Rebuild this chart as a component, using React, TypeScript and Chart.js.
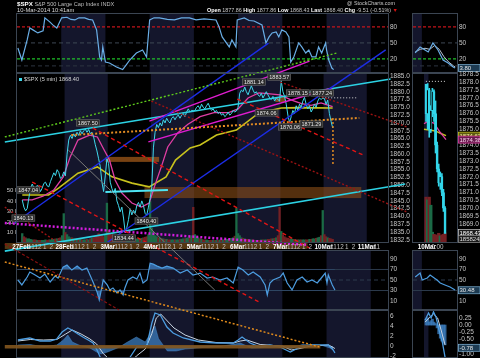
import React, { useEffect, useRef } from "react";
import { Chart, registerables } from "chart.js";

Chart.register(...registerables);

/* ======================= DATA ======================= */

// left panels: time measured in sessions (0 = 27 Feb open)
const SESSION_LABELS = ["27Feb", "28Feb", "3Mar", "4Mar", "5Mar", "6Mar", "7Mar", "10Mar", "11Mar"];
const HOUR_LABELS = ["11", "12", "1", "2"];
const HOUR_MARKS = [1.5, 2.5, 3.5, 4.5];
const SESSION_HOURS = 6.5;
const SHADED_SESSIONS = [1, 3, 5, 7];
const SAMPLES_PER_SESSION = 26;

const PRICE_TICKS = [1832.5, 1835, 1837.5, 1840, 1842.5, 1845, 1847.5, 1850, 1852.5, 1855, 1857.5, 1860, 1862.5, 1865, 1867.5, 1870, 1872.5, 1875, 1877.5, 1880, 1882.5, 1885];
const VOLUME_TICKS = [10, 20, 30, 40, 50];
const TOP_TICKS = [80, 50, 20];
const RSI_TICKS = [90, 70, 50, 30, 10];
const MACD_TICKS = [6, 4, 2, 0, -2];
const TOP_LEVELS = [80, 50, 20, 7];
const RSI_LEVELS = [70, 50, 30];

// $SPX 15-minute samples per session
const spx27Feb = [1845.3, 1843.0, 1841.8, 1842.6, 1846.0, 1849.0, 1850.4, 1849.2, 1848.3, 1850.0, 1849.4, 1848.0, 1849.1, 1850.6, 1851.0, 1849.8, 1849.5, 1851.2, 1852.6, 1854.0, 1853.1, 1855.0, 1854.1, 1852.2, 1852.8, 1854.3];
const spx28Feb = [1853.0, 1860.0, 1864.5, 1866.0, 1865.0, 1866.5, 1865.5, 1867.0, 1866.0, 1867.5, 1866.5, 1867.5, 1868.0, 1867.0, 1867.9, 1866.5, 1867.0, 1865.5, 1863.0, 1861.0, 1858.5, 1856.0, 1851.0, 1848.0, 1853.0, 1858.5];
const spx3Mar = [1857.0, 1851.0, 1849.0, 1847.5, 1849.0, 1845.0, 1843.5, 1841.5, 1843.0, 1839.5, 1835.0, 1836.5, 1839.0, 1842.5, 1840.5, 1842.0, 1841.0, 1843.5, 1844.5, 1843.0, 1845.0, 1843.5, 1841.0, 1840.4, 1843.0, 1845.7];
const spx4Mar = [1849.2, 1862.0, 1867.0, 1869.5, 1868.5, 1870.0, 1869.0, 1871.0, 1870.0, 1871.5, 1870.5, 1870.0, 1871.5, 1872.0, 1871.0, 1872.0, 1872.5, 1871.5, 1872.5, 1873.0, 1872.0, 1873.5, 1874.5, 1873.5, 1874.0, 1873.9];
const spx5Mar = [1874.0, 1875.0, 1875.5, 1874.5, 1876.0, 1875.0, 1874.5, 1875.5, 1876.3, 1875.0, 1874.0, 1874.5, 1873.5, 1874.0, 1873.0, 1873.5, 1872.5, 1873.0, 1872.0, 1872.5, 1873.5, 1872.5, 1873.0, 1874.0, 1873.5, 1873.8];
const spx6Mar = [1875.0, 1879.5, 1880.5, 1880.0, 1881.5, 1880.0, 1879.0, 1880.5, 1881.9, 1880.5, 1879.5, 1880.0, 1879.0, 1878.5, 1879.5, 1878.0, 1879.0, 1880.0, 1879.0, 1878.0, 1877.5, 1878.5, 1877.0, 1878.0, 1877.5, 1877.0];
const spx7Mar = [1883.5, 1880.0, 1878.5, 1876.0, 1872.5, 1870.1, 1872.0, 1874.0, 1873.0, 1875.5, 1874.0, 1876.0, 1875.0, 1877.0, 1878.2, 1876.0, 1874.5, 1875.5, 1873.5, 1874.5, 1876.0, 1875.0, 1877.0, 1878.0, 1877.5, 1878.0];
const spx10Mar = [1877.8, 1876.0, 1877.3, 1873.0, 1870.5, 1868.4];
const SPX_SESSIONS = [spx27Feb, spx28Feb, spx3Mar, spx4Mar, spx5Mar, spx6Mar, spx7Mar, spx10Mar];

// volume (millions) per 15-minute sample
const vol27Feb = [9, 6, 5, 4, 4, 3.5, 3, 3, 3, 2.5, 2.5, 2.5, 2.5, 2.5, 3, 2.5, 3, 3, 3.5, 3.5, 4, 4, 4.5, 5, 7, 28];
const vol28Feb = [10, 8, 6, 5, 5, 4, 4, 4, 3.5, 3.5, 3, 3, 3, 3.5, 3, 4, 4.5, 5, 6, 7, 9, 8, 7, 6, 8, 38];
const vol3Mar = [12, 9, 8, 7, 6, 6, 5, 5, 4.5, 5, 6, 5, 4.5, 4, 4, 3.5, 3.5, 4, 4, 4, 4.5, 5, 5.5, 6, 8, 40];
const vol4Mar = [14, 10, 7, 6, 5, 4.5, 4, 4, 3.5, 3.5, 3, 3, 3, 3, 3, 3, 3, 3.5, 3.5, 4, 4, 4.5, 5, 5.5, 7, 34];
const vol5Mar = [8, 6, 5, 4, 3.5, 3, 3, 3, 2.5, 2.5, 2.5, 2.5, 2.5, 2.5, 2.5, 3, 3, 3, 3, 3.5, 3.5, 4, 4.5, 5, 6.5, 33];
const vol6Mar = [9, 7, 5, 4.5, 4, 3.5, 3.5, 3, 3, 3, 2.5, 2.5, 2.5, 2.5, 3, 3, 3, 3, 3.5, 3.5, 4, 4, 4.5, 5, 7, 34];
const vol7Mar = [11, 8, 6, 5, 4.5, 4, 4, 3.5, 3.5, 3, 3, 3, 3, 3, 3, 3, 3, 3.5, 3.5, 4, 4, 4.5, 5, 5.5, 7, 31];
const vol10Mar = [8, 6, 5, 4.5, 4, 3.5];
const VOL_SESSIONS = [vol27Feb, vol28Feb, vol3Mar, vol4Mar, vol5Mar, vol6Mar, vol7Mar, vol10Mar];

// moving averages [session, price]
const pinkMA = [[0.02, 1845.3], [0.25, 1845.3], [0.5, 1846.5], [0.75, 1848.5], [0.97, 1852.7], [1.13, 1859.1], [1.31, 1864.5], [1.58, 1866.1], [1.76, 1865.5], [1.88, 1862.3], [2.04, 1858.1], [2.17, 1851.7], [2.33, 1847.5], [2.56, 1844.3], [2.78, 1843.0], [2.96, 1844.3], [3.08, 1849.5], [3.24, 1855.9], [3.39, 1862.3], [3.62, 1866.8], [3.85, 1869.5], [4.14, 1872.0], [4.46, 1873.3], [4.8, 1873.3], [5.02, 1874.5], [5.25, 1878.0], [5.5, 1879.6], [5.7, 1879.4], [5.99, 1879.0], [6.26, 1877.3], [6.49, 1876.2], [6.71, 1875.6], [6.94, 1876.4], [7.21, 1875.2]];
const yellowMA = [[0.02, 1846.9], [0.63, 1846.9], [0.86, 1849.1], [1.31, 1853.9], [1.76, 1855.9], [2.1, 1852.7], [2.56, 1850.7], [2.96, 1849.5], [3.35, 1852.7], [3.57, 1858.1], [3.91, 1862.0], [4.14, 1862.9], [4.52, 1866.1], [4.98, 1867.7], [5.5, 1873.2], [6.02, 1874.8], [6.4, 1874.9], [7.21, 1874.8]];

// drawn trend lines: two [session, price] ends each
const tlCyanUpper = [[-0.385, 1863.9], [8.552, 1884.1]];
const tlCyanLower = [[-0.385, 1828.9], [8.891, 1850.4]];
const tlBlueA = [[-0.158, 1837.9], [5.724, 1895.6]];
const tlBlueB = [[1.968, 1831.5], [8.439, 1893.4]];
const tlGreenDotted = [[-0.385, 1865.5], [7.308, 1892.4]];
const tlMagentaUpper = [[2.964, 1870.6], [6.674, 1889.8]];
const tlMagentaLower = [[2.941, 1863.9], [7.195, 1881.2]];
const tlMagentaDotted = [[-0.385, 1837.9], [6.629, 1830.9]];
const tlRedA = [[1.652, 1868.4], [6.674, 1829.9]];
const tlRedB = [[0.249, 1851.05], [5.543, 1812.3]];
const tlRedC = [[5.0, 1877.66], [7.919, 1859.7]];
const tlDarkRedA = [[3.009, 1877.0], [8.937, 1841.4]];
const tlDarkRedB = [[5.995, 1883.1], [8.937, 1868.7]];
const tlDarkRedC = [[-0.385, 1843.0], [0.86, 1831.5]];
const tlDarkRedD = [[-0.385, 1831.2], [2.262, 1810.0]];
const tlGray = [[1.086, 1861.3], [4.48, 1816.4]];
const tlOrange = [[1.154, 1866.1], [7.828, 1871.6]];
const tlOrangeDrop = [[7.217, 1871.6], [7.217, 1856.5]];
const tlOrangeLong = [[-0.385, 1825.4], [6.9, 1798.2]];
const tlPrevClose = [[6.968, 1878.04], [7.76, 1878.04]];
const tlCyanShelf = [[1.946, 1847.85], [3.394, 1848.5]];
const tlBrownBase = [[-0.385, 1798.2], [6.923, 1798.2]];

// shaded zones [session0, session1, priceLow, priceHigh]
const zoneUpper = [1.946, 3.19, 1857.5, 1859.1];
const zoneLower = [2.851, 7.873, 1845.9, 1849.45];
const zoneSmall = [5.882, 6.109, 1876.7, 1878.3];
const zoneAxisBand = [-0.385, 6.629, 1829.6, 1831.5];

// price notes [session, price, text]
const priceNotes = [
  [0.158, 1848.5, "1847.04"], [0.045, 1839.5, "1840.13"], [1.538, 1870.0, "1867.50"],
  [2.376, 1833.1, "1834.44"], [2.896, 1838.55, "1840.40"], [5.385, 1883.1, "1881.14"],
  [5.973, 1884.7, "1883.57"], [6.403, 1879.6, "1878.15"], [6.968, 1879.6, "1877.24"],
  [5.679, 1873.2, "1874.06"], [6.222, 1868.7, "1870.06"], [6.719, 1869.65, "1871.29"],
];

// top oscillator [session, value]
const topOsc = [[0.02, 40.6], [0.11, 18], [0.23, 55.6], [0.29, 78], [0.36, 74.4], [0.47, 68.7], [0.59, 72.5], [0.63, 96.9], [0.74, 89.4], [0.81, 83.8], [0.9, 78], [1.01, 96.9], [1.13, 98], [1.22, 94], [1.31, 93], [1.4, 97], [1.53, 96.9], [1.62, 94], [1.71, 93], [1.8, 74.4], [1.87, 23.7], [1.91, 18], [1.94, 42.5], [2.0, 14.3], [2.09, 12.5], [2.25, 5], [2.39, 0], [2.47, 9], [2.55, 18], [2.7, 31.2], [2.84, 36.8], [2.93, 23.7], [3.0, 93], [3.1, 97], [3.22, 96.9], [3.4, 94], [3.56, 93], [3.72, 97], [3.9, 96.9], [4.05, 93], [4.23, 95], [4.5, 93], [4.57, 80], [4.64, 61.2], [4.8, 42.5], [4.86, 55.6], [4.95, 42.5], [4.98, 93], [5.14, 96.9], [5.25, 92], [5.36, 91], [5.54, 83.8], [5.63, 50], [5.7, 61.2], [5.77, 68.7], [5.86, 70.6], [5.92, 61.2], [5.99, 74.4], [6.08, 70.6], [6.15, 61.2], [6.19, 14.3], [6.26, 23.7], [6.37, 50], [6.44, 42.5], [6.53, 31.2], [6.6, 36.8], [6.67, 23.7], [6.76, 23.7], [6.82, 42.5], [6.89, 31.2], [6.98, 50], [7.0, 36.8], [7.05, 18], [7.12, 3], [7.16, 0]];

// RSI [session, value]
const rsiSeries = [[0.02, 50], [0.11, 40.6], [0.23, 55.7], [0.29, 65.1], [0.41, 59.4], [0.52, 53.8], [0.63, 61.3], [0.75, 46.2], [0.86, 57.5], [0.93, 53.8], [1.04, 74.5], [1.13, 78.3], [1.24, 68.9], [1.36, 76.4], [1.47, 68.9], [1.58, 72.6], [1.65, 59.4], [1.72, 46.2], [1.81, 27.4], [1.86, 12.3], [1.92, 36.8], [1.95, 50], [2.04, 40.6], [2.1, 31.1], [2.17, 34.9], [2.26, 25.5], [2.33, 31.1], [2.4, 21.7], [2.44, 34.9], [2.51, 50], [2.62, 55.7], [2.71, 51.9], [2.78, 63.2], [2.85, 44.3], [2.94, 50], [3.01, 82], [3.08, 80.2], [3.17, 76.4], [3.28, 72.6], [3.39, 76.4], [3.53, 72.6], [3.69, 63.2], [3.85, 68.9], [3.98, 59.4], [4.14, 63.2], [4.3, 53.8], [4.43, 55.7], [4.59, 50], [4.75, 53.8], [4.89, 44.3], [5.0, 74.5], [5.11, 68.9], [5.23, 59.4], [5.34, 65.1], [5.5, 55.7], [5.61, 40.6], [5.66, 21.7], [5.72, 44.3], [5.79, 50], [5.95, 55.7], [6.02, 63.2], [6.11, 44.3], [6.22, 31.1], [6.33, 50], [6.45, 55.7], [6.56, 46.2], [6.67, 50], [6.79, 44.3], [6.9, 55.7], [6.97, 63.2], [7.01, 44.3], [7.04, 59.4], [7.13, 40.6], [7.19, 31.1]];

// MACD [session, value]
const macdLine = [[0.02, 1.2], [0.29, 1.6], [0.52, 1.0], [0.75, 1.0], [0.9, 1.4], [1.02, 2.8], [1.15, 3.6], [1.24, 3.2], [1.38, 2.4], [1.49, 1.8], [1.61, 1.2], [1.72, 0.6], [1.81, -0.8], [1.88, -2.2], [1.99, -3.2], [2.15, -4.0], [2.29, -4.4], [2.42, -4.0], [2.56, -2.2], [2.71, -0.2], [2.85, -0.2], [2.94, 0.2], [3.05, 4.6], [3.12, 6.6], [3.24, 6.2], [3.39, 3.8], [3.53, 2.6], [3.76, 1.6], [4.14, 0.8], [4.52, 0.6], [4.89, 0.6], [5.0, 1.2], [5.09, 1.8], [5.27, 0.6], [5.5, -0.2], [5.72, 0.2], [5.95, -0.2], [6.18, -1.2], [6.4, -0.2], [6.63, 0.2], [6.86, 0.2], [7.04, 0.2], [7.15, -0.8], [7.19, -1.4]];
const macdSignal = [[0.02, 1.0], [0.3, 1.3], [0.6, 1.2], [0.9, 1.3], [1.1, 2.4], [1.25, 3.2], [1.45, 2.4], [1.65, 1.4], [1.8, 0.4], [1.95, -1.5], [2.15, -3.2], [2.35, -4.2], [2.5, -3.8], [2.7, -2.0], [2.9, -0.6], [3.05, 2.5], [3.15, 5.6], [3.25, 6.4], [3.4, 5.0], [3.55, 3.6], [3.8, 2.2], [4.1, 1.2], [4.5, 0.7], [4.9, 0.6], [5.05, 1.0], [5.2, 1.2], [5.5, 0.3], [5.8, 0.1], [6.0, 0.0], [6.2, -0.8], [6.4, -0.5], [6.65, 0.0], [6.9, 0.1], [7.05, 0.2], [7.19, -0.5]];
const macdHist = [[0.02, 0.2], [0.3, 0.3], [0.6, -0.2], [0.9, 0.2], [1.05, 1.2], [1.15, 2.2], [1.25, 0.8], [1.45, 0], [1.65, -0.4], [1.8, -1.2], [1.9, -1.6], [2.05, -1.2], [2.3, -0.3], [2.5, 0.8], [2.7, 1.8], [2.9, 0.8], [3.05, 3.0], [3.12, 4.0], [3.2, 1.5], [3.4, -1.0], [3.6, -1.0], [3.8, -0.6], [4.2, -0.3], [4.6, -0.1], [5.05, 0.6], [5.3, -0.4], [5.6, -0.3], [6.0, -0.2], [6.2, -0.5], [6.45, 0.3], [6.9, 0.1], [7.15, -0.6]];

// right mini chart (10 Mar, 5-minute candles from the open)
const MINI_TIME_LABELS = ["10Mar", "10:00"];
const MINI_TIME_MARKS = [0.5, 6];
const MINI_PRICE_TICKS = [1869, 1869.5, 1870, 1870.5, 1871, 1871.5, 1872, 1872.5, 1873, 1873.5, 1874, 1874.5, 1875, 1875.5, 1876, 1876.5, 1877, 1877.5, 1878, 1878.5];
const MINI_MACD_TICKS = [0.25, 0, -0.25, -0.5, -0.75, -1.0];
const miniOpen = [1877.86, 1876.0, 1877.5, 1875.0, 1876.2, 1877.4, 1876.0, 1874.0, 1872.5, 1871.6, 1872.0, 1871.0, 1870.0];
const miniHigh = [1877.86, 1877.9, 1877.6, 1876.5, 1877.6, 1877.5, 1876.8, 1874.2, 1872.8, 1872.3, 1872.2, 1871.2, 1870.1];
const miniLow = [1875.5, 1875.0, 1874.5, 1874.8, 1875.8, 1875.5, 1873.5, 1872.3, 1871.4, 1871.2, 1870.8, 1869.8, 1868.43];
const miniClose = [1876.0, 1877.5, 1875.0, 1876.2, 1877.4, 1876.0, 1874.0, 1872.5, 1871.6, 1872.0, 1871.0, 1870.0, 1868.4];
const miniVolume = [8.5, 8.0, 8.5, 7.0, 2.0, 1.6, 1.5, 1.4, 1.8, 1.3, 1.5, 1.6, 1.86];
const miniYellow = [[-1.3, 1875.0], [3, 1874.95], [6, 1874.9], [9, 1874.75], [12.6, 1874.6]];
const miniPink = [[-1.3, 1875.35], [1, 1875.5], [3, 1875.45], [5, 1875.4], [7, 1875.1], [9, 1874.8], [11, 1874.55], [12.6, 1874.35]];
const miniPrevClose = 1878.04;
const miniTopK = [[-0.6, 31.2], [0.95, 42.5], [2.5, 36.8], [3.5, 33.1], [5.0, 50], [6.6, 36.8], [8.2, 18], [9.8, 12.5], [11.4, 5], [12, 3]];
const miniTopD = [[-0.6, 33], [1, 38], [2.5, 40], [4, 38], [5.5, 45], [7, 38], [8.5, 24], [10, 14], [11.5, 7], [12, 5]];
const miniRsi = [[-0.6, 55.7], [0.95, 63.2], [1.6, 50], [3.2, 53.8], [4.1, 59.4], [6.3, 50], [7.3, 44.3], [8.8, 40.6], [10.4, 36.8], [12, 31.1]];
const miniMacd = [[-0.6, 0.17], [1.6, 0.41], [3.2, 0.24], [4.7, 0.45], [6.3, 0.27], [8.2, -0.17], [10.4, -0.62], [12, -1.1]];
const miniSignal = [[-0.6, 0.1], [2.5, 0.27], [4.7, 0.38], [7.3, 0.24], [9.5, -0.17], [12, -0.68]];
const miniHist = [0.2, 0.25, 0.1, 0.15, 0.2, 0.1, 0.05, -0.1, -0.3, -0.45, -0.55, -0.62, -0.68];
const miniTopLast = [3, "3.80"];
const miniRsiLast = [30.48, "30.48"];
const miniMacdLast = [-0.78, "-0.78"];
const miniYellowLast = [1874.6, "1874.62"];
const miniPinkLast = [1874.35, "1874.38"];
const miniPriceLast = [1868.43, "1868.43"];
const miniVolumeLast = [1868.05, "1858242"];

/* ======================= STYLE / HELPERS ======================= */

const FAMILY = "'Liberation Sans', Arial, sans-serif";
const TICK_COLOR = "#c6c6c6";
const SHADE = "#14162c";
const FRAME = "#3b4552";
const DAY_MAX = 8.39;
const MINI_MIN = -1.3;
const MINI_MAX = 12.6;

const pts = (pairs: any[]) => pairs.map(([x, y]: any) => ({ x, y }));

function lineDs(data: any[], color: string, width: number, extra: any = {}) {
  return { type: "line", data, borderColor: color, borderWidth: width, pointRadius: 0, pointHoverRadius: 0, fill: false, tension: 0, ...extra };
}

function rightAxis(min: number, max: number, ticks: number[], fmt: (v: number) => string, width: number) {
  return {
    type: "linear", position: "right", min, max,
    grid: { display: false, drawTicks: false }, border: { display: false },
    afterBuildTicks: (s: any) => { s.ticks = ticks.map((v) => ({ value: v })); },
    afterFit: (s: any) => { s.width = width; s.paddingTop = 0; s.paddingBottom = 0; },
    ticks: { autoSkip: false, padding: 2, color: TICK_COLOR, font: { family: FAMILY, size: 6.5 }, callback: (v: number) => fmt(v) },
  };
}

function timeAxis(min: number, max: number, marks: number[], labels: string[], majors: boolean[]) {
  return {
    type: "linear", position: "bottom", min, max,
    grid: { display: false, drawTicks: false }, border: { display: false },
    afterBuildTicks: (s: any) => { s.ticks = marks.map((v, i) => ({ value: v, major: majors[i] })); },
    afterFit: (s: any) => { s.height = 7; s.paddingLeft = 0; s.paddingRight = 0; },
    ticks: {
      z: 5, autoSkip: false, maxRotation: 0, minRotation: 0, padding: 0,
      color: (c: any) => (c.tick && c.tick.major ? "#ffffff" : "#c4c4c4"),
      font: (c: any) => ({ family: FAMILY, size: 6.3, weight: c.tick && c.tick.major ? "bold" : "normal" }),
      callback: (_v: any, i: number) => labels[i],
    },
  };
}

const hiddenX = (min: number, max: number) => ({ type: "linear", min, max, display: false });

function panelPlugin(shadeRanges: number[][]) {
  return {
    id: "panel",
    beforeDatasetsDraw(chart: any) {
      const { ctx, chartArea: a } = chart;
      const xs = chart.scales.x;
      ctx.save();
      ctx.beginPath();
      ctx.rect(a.left, a.top, a.right - a.left, a.bottom - a.top);
      ctx.clip();
      ctx.fillStyle = SHADE;
      shadeRanges.forEach(([s, e]) => {
        const x0 = xs.getPixelForValue(s);
        const x1 = xs.getPixelForValue(e);
        ctx.fillRect(x0, a.top, x1 - x0, a.bottom - a.top);
      });
      ctx.restore();
    },
    afterDraw(chart: any) {
      const { ctx, chartArea: a } = chart;
      ctx.save();
      ctx.strokeStyle = FRAME;
      ctx.lineWidth = 1;
      ctx.strokeRect(Math.round(a.left) - 0.5, Math.round(a.top) + 0.5, Math.round(a.right - a.left) + 1, Math.round(a.bottom - a.top) - 1);
      ctx.restore();
    },
  };
}

function boxesPlugin(boxes: any[]) {
  return {
    id: "boxes",
    afterDraw(chart: any) {
      const { ctx, chartArea: a } = chart;
      ctx.save();
      ctx.font = `6px ${FAMILY}`;
      ctx.textBaseline = "middle";
      boxes.forEach((b) => {
        const y = chart.scales[b.axis || "y"].getPixelForValue(b.value);
        const x = a.right + 1;
        ctx.fillStyle = b.bg;
        ctx.fillRect(x, y - 3.5, 22, 7);
        ctx.strokeStyle = b.border;
        ctx.lineWidth = 0.7;
        ctx.strokeRect(x + 0.5, y - 3.5, 21.5, 7);
        ctx.fillStyle = b.fg;
        ctx.fillText(b.text, x + 1.5, y + 0.3);
      });
      ctx.restore();
    },
  };
}

function priceDecorPlugin() {
  return {
    id: "priceDecor",
    beforeDatasetsDraw(chart: any) {
      const { ctx } = chart;
      const xs = chart.scales.x;
      const ys = chart.scales.y;
      const rect = (z: number[], color: string) => {
        const x0 = xs.getPixelForValue(z[0]);
        const x1 = xs.getPixelForValue(z[1]);
        const y0 = ys.getPixelForValue(z[3]);
        const y1 = ys.getPixelForValue(z[2]);
        ctx.fillStyle = color;
        ctx.fillRect(x0, y0, x1 - x0, y1 - y0);
      };
      ctx.save();
      rect(zoneAxisBand, "rgba(105,68,22,0.8)");
      rect(zoneLower, "rgba(140,78,24,0.6)");
      rect(zoneUpper, "rgba(160,88,24,0.75)");
      rect(zoneSmall, "rgba(160,88,24,0.75)");
      ctx.restore();
    },
    afterDatasetsDraw(chart: any) {
      const { ctx } = chart;
      const xs = chart.scales.x;
      const ys = chart.scales.y;
      ctx.save();
      ctx.font = `5.5px ${FAMILY}`;
      ctx.textBaseline = "middle";
      ctx.textAlign = "center";
      priceNotes.forEach(([d, p, t]: any) => {
        const x = xs.getPixelForValue(d);
        const y = ys.getPixelForValue(p);
        const w = ctx.measureText(t).width + 3;
        ctx.fillStyle = "#2c2c2c";
        ctx.fillRect(x - w / 2, y - 3.2, w, 6.4);
        ctx.strokeStyle = "#6d6d6d";
        ctx.lineWidth = 0.6;
        ctx.strokeRect(x - w / 2, y - 3.2, w, 6.4);
        ctx.fillStyle = "#e6e6e6";
        ctx.fillText(t, x, y + 0.3);
      });
      ctx.restore();
    },
  };
}

function baseOptions(padding: any, scales: any) {
  return {
    responsive: false, maintainAspectRatio: false, animation: false, devicePixelRatio: 1, events: [],
    layout: { padding },
    plugins: { legend: { display: false }, tooltip: { enabled: false }, title: { display: false } },
    scales,
  };
}

const leftShade = SHADED_SESSIONS.map((s) => [s, s + 1]);
const miniShade = [[-1.3, 1.5]];

function levelLines(levels: number[], min: number, max: number, styles: any[]) {
  return levels.map((lv, i) => lineDs(pts([[min, lv], [max, lv]]), styles[i].color, styles[i].width, { borderDash: styles[i].dash, order: 20 }));
}

/* ======================= CHART CONFIGS ======================= */

const topStyles = [
  { color: "#c4151b", width: 1.3, dash: [3, 2] },
  { color: "#3d4754", width: 1, dash: [4, 3] },
  { color: "#1fbf2a", width: 1.3, dash: [3, 2] },
  { color: "#2d3540", width: 1, dash: [4, 3] },
];
const rsiStyles = [
  { color: "#2c3a4c", width: 1, dash: [] },
  { color: "#2c3a4c", width: 1, dash: [4, 3] },
  { color: "#2c3a4c", width: 1, dash: [] },
];

function topConfig() {
  return {
    type: "line",
    data: { datasets: [...levelLines(TOP_LEVELS, 0, DAY_MAX, topStyles), lineDs(pts(topOsc), "#6aaee6", 1.2, { order: 1 })] },
    options: baseOptions({ left: 17, right: 68, top: 13, bottom: 285 }, {
      x: hiddenX(0, DAY_MAX),
      y: rightAxis(-6.3, 106, TOP_TICKS, (v) => String(v), 24),
    }),
    plugins: [panelPlugin(leftShade)],
  };
}

function rsiConfig() {
  const fillCol = "rgba(64,130,200,0.75)";
  return {
    type: "line",
    data: {
      datasets: [
        ...levelLines(RSI_LEVELS, 0, DAY_MAX, rsiStyles),
        lineDs(pts(rsiSeries), "transparent", 0, { fill: { target: { value: 70 }, above: fillCol, below: "transparent" }, order: 5 }),
        lineDs(pts(rsiSeries), "transparent", 0, { fill: { target: { value: 30 }, above: "transparent", below: fillCol }, order: 5 }),
        lineDs(pts(rsiSeries), "#4d9de0", 1.2, { order: 1 }),
      ],
    },
    options: baseOptions({ left: 17, right: 68, top: 250, bottom: 48 }, {
      x: hiddenX(0, DAY_MAX),
      y: rightAxis(-7, 107, RSI_TICKS, (v) => String(v), 24),
    }),
    plugins: [panelPlugin(leftShade)],
  };
}

function macdConfig() {
  return {
    type: "line",
    data: {
      datasets: [
        lineDs(pts(macdHist), "rgba(70,140,210,0.9)", 0.5, { fill: "origin", backgroundColor: "rgba(60,125,190,0.75)", order: 5 }),
        lineDs(pts(macdSignal), "#c9d5e2", 1, { order: 2 }),
        lineDs(pts(macdLine), "#4d9de0", 1.3, { order: 1 }),
      ],
    },
    options: baseOptions({ left: 17, right: 68, top: 310, bottom: 0 }, {
      x: hiddenX(0, DAY_MAX),
      y: rightAxis(-2.4, 7.2, MACD_TICKS, (v) => String(v), 24),
    }),
    plugins: [panelPlugin(leftShade)],
  };
}

function priceConfig() {
  const pricePts: any[] = [];
  const volBars: any[] = [];
  const volColors: string[] = [];
  let prev = SPX_SESSIONS[0][0];
  SPX_SESSIONS.forEach((vals, d) => {
    vals.forEach((v, i) => {
      const x = d + (i + 0.5) / SAMPLES_PER_SESSION;
      pricePts.push({ x, y: v });
      volBars.push({ x, y: VOL_SESSIONS[d][i] });
      volColors.push(v >= prev ? "#1b6a46" : "#742024");
      prev = v;
    });
  });
  const tl = (pairs: any[], color: string, width: number, dash: number[] = [], order = 2) =>
    lineDs(pts(pairs), color, width, { borderDash: dash, clip: false, order, yAxisID: "y" });

  const marks: number[] = [];
  const labels: string[] = [];
  const majors: boolean[] = [];
  SESSION_LABELS.forEach((lab, d) => {
    marks.push(d); labels.push(lab); majors.push(true);
    HOUR_LABELS.forEach((h, j) => {
      const v = d + HOUR_MARKS[j] / SESSION_HOURS;
      if (v < DAY_MAX - 0.1) { marks.push(v); labels.push(h); majors.push(false); }
    });
  });

  return {
    type: "line",
    data: {
      datasets: [
        { type: "bar", data: volBars, yAxisID: "vol", backgroundColor: volColors, barPercentage: 1, categoryPercentage: 1, order: 30 },
        lineDs(pts(yellowMA), "#c8c21d", 1.6, { order: 9 }),
        lineDs(pts(pinkMA), "#e03ea4", 1.3, { order: 8 }),
        lineDs(pricePts, "#3fd8ec", 1, { order: 7 }),
        tl(tlBrownBase, "rgba(130,85,30,0.9)", 3.5, [], 6),
        tl(tlGray, "#777777", 1),
        tl(tlDarkRedA, "#9c1212", 1.4, [2, 2]),
        tl(tlDarkRedB, "#9c1212", 1.4, [2, 2]),
        tl(tlDarkRedC, "#9c1212", 1.4, [2, 2]),
        tl(tlDarkRedD, "#8a1010", 1.2, [3, 2]),
        tl(tlRedA, "#e21414", 1.4, [4, 3]),
        tl(tlRedB, "#e21414", 1.4, [4, 3]),
        tl(tlRedC, "#e21414", 1.4, [4, 3]),
        tl(tlOrangeLong, "#e08a1c", 1.5, [2, 2]),
        tl(tlOrange, "#e38c22", 2, [2, 2]),
        tl(tlOrangeDrop, "#e38c22", 1.5, [2, 2]),
        tl(tlMagentaDotted, "#d41ee0", 2.5, [2, 2]),
        tl(tlGreenDotted, "#5fcc1c", 1.4, [2, 2]),
        tl(tlBlueA, "#1c2de6", 1.4),
        tl(tlBlueB, "#1c2de6", 1.4),
        tl(tlMagentaUpper, "#e01cd0", 1.4),
        tl(tlMagentaLower, "#e01cd0", 1.4),
        tl(tlCyanUpper, "#2cd2e4", 1.6),
        tl(tlCyanLower, "#2cd2e4", 1.6),
        tl(tlCyanShelf, "#4ee4f2", 2),
        tl(tlPrevClose, "#d8d8d8", 1, [1, 2]),
      ],
    },
    options: baseOptions({ left: 0, right: 68, top: 73, bottom: 108 }, {
      x: timeAxis(0, DAY_MAX, marks, labels, majors),
      y: rightAxis(1831.5, 1886, PRICE_TICKS, (v) => v.toFixed(1), 24),
      vol: {
        type: "linear", position: "left", min: 0, max: 162,
        grid: { display: false, drawTicks: false }, border: { display: false },
        afterBuildTicks: (s: any) => { s.ticks = VOLUME_TICKS.map((v) => ({ value: v })); },
        afterFit: (s: any) => { s.width = 17; s.paddingTop = 0; s.paddingBottom = 0; },
        ticks: { autoSkip: false, padding: -3, color: TICK_COLOR, font: { family: FAMILY, size: 6 }, callback: (v: number) => `${v} M` },
      },
    }),
    plugins: [panelPlugin(leftShade), priceDecorPlugin()],
  };
}

/* ---------- mini (right) panels ---------- */

function miniTopConfig() {
  return {
    type: "line",
    data: {
      datasets: [
        ...levelLines(TOP_LEVELS, MINI_MIN, MINI_MAX, topStyles),
        lineDs(pts(miniTopD), "#b8c4d0", 1, { order: 2 }),
        lineDs(pts(miniTopK), "#6aaee6", 1.2, { order: 1 }),
      ],
    },
    options: baseOptions({ left: 413, right: 0, top: 13, bottom: 285 }, {
      x: hiddenX(MINI_MIN, MINI_MAX),
      y: rightAxis(-6.3, 106, TOP_TICKS, (v) => String(v), 23),
    }),
    plugins: [panelPlugin(miniShade), boxesPlugin([{ value: miniTopLast[0], text: miniTopLast[1], bg: "#1d3b52", fg: "#e8e8e8", border: "#7fb4d8" }])],
  };
}

function miniPriceConfig() {
  const idx = miniClose.map((_c, i) => i);
  const cyan = "#33d6ea";
  return {
    type: "line",
    data: {
      datasets: [
        { type: "bar", yAxisID: "vol", grouped: false, data: idx.map((i) => ({ x: i, y: miniVolume[i] })), backgroundColor: idx.map((i) => (miniClose[i] >= miniOpen[i] ? "#1b6a46" : "#742024")), barThickness: 2.6, order: 30 },
        lineDs(pts([[MINI_MIN + 1.2, miniPrevClose], [MINI_MAX, miniPrevClose]]), "#d8d8d8", 1, { borderDash: [1, 2], order: 20 }),
        lineDs(pts(miniYellow), "#c8c21d", 1.5, { order: 9 }),
        lineDs(pts(miniPink), "#e03ea4", 1.3, { order: 8 }),
        { type: "bar", grouped: false, data: idx.map((i) => ({ x: i, y: [miniLow[i], miniHigh[i]] })), backgroundColor: cyan, barThickness: 1, order: 6 },
        { type: "bar", grouped: false, data: idx.map((i) => ({ x: i, y: [Math.min(miniOpen[i], miniClose[i]), Math.max(miniOpen[i], miniClose[i])] })), backgroundColor: idx.map((i) => (miniClose[i] < miniOpen[i] ? cyan : "#000000")), borderColor: cyan, borderWidth: 0.7, borderSkipped: false, barThickness: 2.2, order: 5 },
      ],
    },
    options: baseOptions({ left: 413, right: 0, top: 73, bottom: 108 }, {
      x: timeAxis(MINI_MIN, MINI_MAX, MINI_TIME_MARKS, MINI_TIME_LABELS, [true, false]),
      y: rightAxis(1867.8, 1878.57, MINI_PRICE_TICKS, (v) => v.toFixed(1), 23),
      vol: { type: "linear", min: 0, max: 31.5, display: false },
    }),
    plugins: [
      panelPlugin(miniShade),
      boxesPlugin([
        { value: miniYellowLast[0], text: miniYellowLast[1], bg: "#5d5a10", fg: "#f4f0a0", border: "#c8c21d" },
        { value: miniPinkLast[0], text: miniPinkLast[1], bg: "#6a1a4e", fg: "#f6d0ea", border: "#e03ea4" },
        { value: miniPriceLast[0], text: miniPriceLast[1], bg: "#1c1c1c", fg: "#ffffff", border: "#cfcfcf" },
        { value: miniVolumeLast[0], text: miniVolumeLast[1], bg: "#1c1c1c", fg: "#dddddd", border: "#9a9a9a" },
      ]),
    ],
  };
}

function miniRsiConfig() {
  return {
    type: "line",
    data: { datasets: [...levelLines(RSI_LEVELS, MINI_MIN, MINI_MAX, rsiStyles), lineDs(pts(miniRsi), "#4d9de0", 1.2, { order: 1 })] },
    options: baseOptions({ left: 413, right: 0, top: 250, bottom: 48 }, {
      x: hiddenX(MINI_MIN, MINI_MAX),
      y: rightAxis(-7, 107, RSI_TICKS, (v) => String(v), 23),
    }),
    plugins: [panelPlugin(miniShade), boxesPlugin([{ value: miniRsiLast[0], text: miniRsiLast[1], bg: "#1d3b52", fg: "#e8e8e8", border: "#7fb4d8" }])],
  };
}

function miniMacdConfig() {
  const idx = miniHist.map((_h, i) => i);
  return {
    type: "line",
    data: {
      datasets: [
        { type: "bar", data: idx.map((i) => ({ x: i, y: miniHist[i] })), backgroundColor: "rgba(60,125,190,0.8)", barThickness: 2.2, order: 5 },
        lineDs(pts(miniSignal), "#c9d5e2", 1, { order: 2 }),
        lineDs(pts(miniMacd), "#4d9de0", 1.3, { order: 1 }),
      ],
    },
    options: baseOptions({ left: 413, right: 0, top: 310, bottom: 0 }, {
      x: hiddenX(MINI_MIN, MINI_MAX),
      y: rightAxis(-1.13, 0.514, MINI_MACD_TICKS, (v) => v.toFixed(2), 23),
    }),
    plugins: [panelPlugin(miniShade), boxesPlugin([{ value: miniMacdLast[0], text: miniMacdLast[1], bg: "#1d3b52", fg: "#e8e8e8", border: "#7fb4d8" }])],
  };
}

/* ======================= COMPONENT ======================= */

const canvasStyle: any = { position: "absolute", left: 0, top: 0, width: 480, height: 358 };
const txt: any = { position: "absolute", whiteSpace: "nowrap", lineHeight: 1, fontFamily: FAMILY };

export default function App() {
  const refs = [useRef<HTMLCanvasElement>(null), useRef<HTMLCanvasElement>(null), useRef<HTMLCanvasElement>(null), useRef<HTMLCanvasElement>(null), useRef<HTMLCanvasElement>(null), useRef<HTMLCanvasElement>(null), useRef<HTMLCanvasElement>(null), useRef<HTMLCanvasElement>(null)];

  useEffect(() => {
    document.body.style.margin = "0";
    document.body.style.background = "#000";
    const factories = [topConfig, rsiConfig, macdConfig, miniTopConfig, miniPriceConfig, miniRsiConfig, miniMacdConfig, priceConfig];
    const charts = factories.map((f, i) => new Chart(refs[i].current as HTMLCanvasElement, f() as any));
    return () => charts.forEach((c) => c.destroy());
  }, []);

  const b = { color: "#fff" };
  return (
    <div style={{ position: "fixed", left: 0, top: 0, width: 480, height: 358, background: "#000", overflow: "hidden" }}>
      {refs.map((r, i) => (
        <canvas key={i} ref={r} width={480} height={358} style={canvasStyle} />
      ))}
      <div style={{ ...txt, left: 17, top: 1, fontSize: 5.6, color: "#bdbdbd" }}>
        <b style={{ color: "#fff", fontSize: 6.2 }}>$SPX</b> S&amp;P 500 Large Cap Index INDX
      </div>
      <div style={{ ...txt, left: 347, top: 1, fontSize: 5.4, color: "#c8c8c8" }}>@ StockCharts.com</div>
      <div style={{ ...txt, left: 17, top: 8, fontSize: 5.8, color: "#d8d8d8" }}>10-Mar-2014 10:41am</div>
      <div style={{ ...txt, left: 207, top: 8, fontSize: 5.4, color: "#c8c8c8" }}>
        <b style={b}>Open</b> 1877.86 <b style={b}>High</b> 1877.86 <b style={b}>Low</b> 1868.43 <b style={b}>Last</b> 1868.40 <b style={b}>Chg</b> -9.51 (-0.51%) <span style={{ color: "#e01010" }}>▼</span>
      </div>
      <div style={{ ...txt, left: 19, top: 77, fontSize: 5.6, color: "#d6d6d6" }}>
        <span style={{ display: "inline-block", width: 3, height: 3, background: "#3fd8ec", marginRight: 2, verticalAlign: "middle" }} />
        $SPX (5 min) 1868.40
      </div>
    </div>
  );
}
